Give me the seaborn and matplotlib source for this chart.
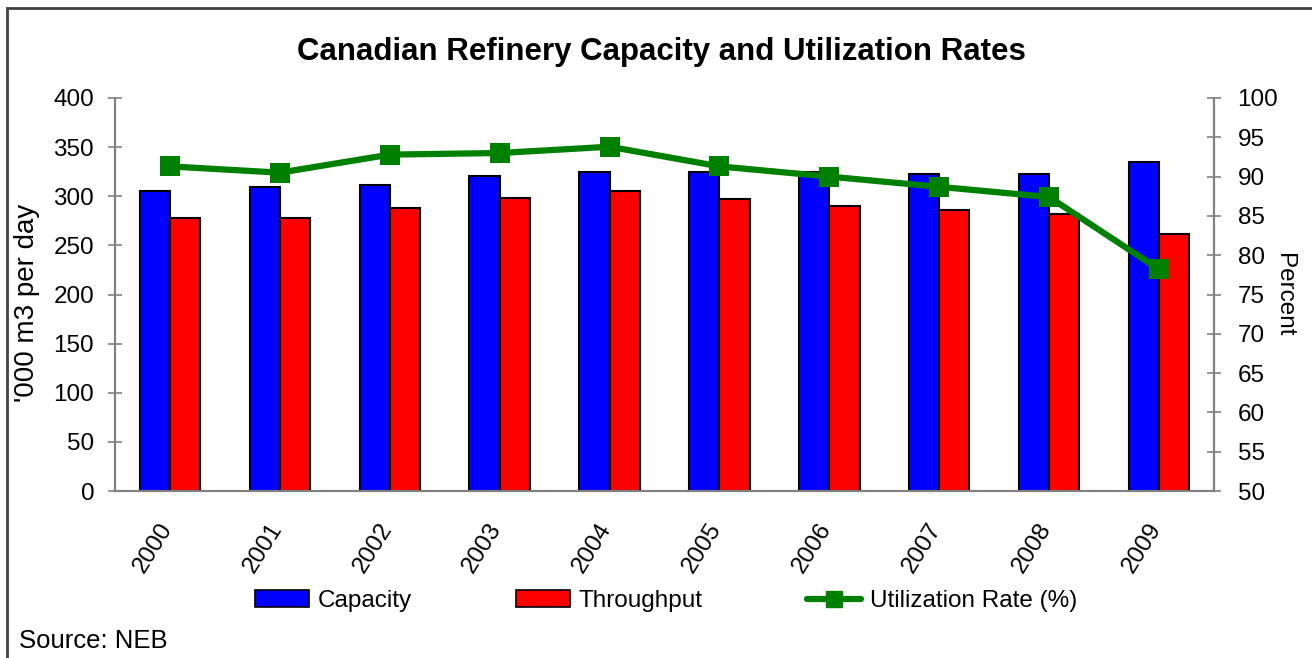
import numpy as np
import pandas as pd
import seaborn as sns
import matplotlib.pyplot as plt
from matplotlib.patches import Patch, Rectangle
from matplotlib.lines import Line2D

years = ["2000", "2001", "2002", "2003", "2004", "2005", "2006", "2007", "2008", "2009"]
capacity = [305, 309, 311, 321, 325, 325, 325, 323, 323, 335]
throughput = [278, 278, 288, 298, 305, 297, 290, 286, 282, 262]
utilization = [91.3, 90.5, 92.8, 93.0, 93.8, 91.3, 90.0, 88.7, 87.4, 78.2]

sns.set_theme(style="white")
plt.rcParams['font.family'] = ['Liberation Sans', 'DejaVu Sans']
plt.rcParams['text.color'] = 'black'
plt.rcParams['axes.labelcolor'] = 'black'
plt.rcParams['xtick.color'] = 'black'
plt.rcParams['ytick.color'] = 'black'

fs = 17.5

df = pd.DataFrame({"Year": years * 2,
                   "Value": capacity + throughput,
                   "Series": ["Capacity"] * 10 + ["Throughput"] * 10})

fig = plt.figure(figsize=(13.12, 6.58), dpi=100)
ax = fig.add_axes([115 / 1312, 1 - 491 / 658, (1214 - 115) / 1312, (491 - 98) / 658])

sns.barplot(data=df, x="Year", y="Value", hue="Series",
            palette=["#0000FF", "#FF0000"], width=0.55, gap=0,
            edgecolor="black", linewidth=1.5, saturation=1, ax=ax, legend=False)

ax.set_xlim(-0.5, 9.5)
ax.set_ylim(0, 400)
ax.set_yticks(range(0, 401, 50))
ax.set_xlabel("")
ax.set_ylabel("'000 m3 per day", fontsize=20)
ax.yaxis.set_label_coords(-0.068, 0.478)
ax.set_xticks(np.arange(-0.5, 10, 1), minor=False)
ax.set_xticklabels([])
# year labels sit a little left of the group centre, like the original
ax.set_xticks(np.arange(10) - 0.11, minor=True)
ax.set_xticklabels(years, minor=True, rotation=58, fontsize=fs)
ax.tick_params(axis="x", which="major", direction="out", length=8, color="#808080", width=1)
ax.tick_params(axis="x", which="minor", length=0, pad=20)
ax.tick_params(axis="y", direction="inout", length=10, color="#808080", width=1.2, labelsize=fs, pad=10)
for lab in ax.get_xticklabels(minor=True):
    lab.set_horizontalalignment("right")
    lab.set_rotation_mode("anchor")

ax2 = ax.twinx()
sns.lineplot(x=np.arange(10), y=utilization, color="#008000", linewidth=4.5,
             marker="s", markersize=15, markeredgewidth=0, ax=ax2)
ax2.set_ylim(50, 100)
ax2.set_yticks(range(50, 101, 5))
ax2.set_ylabel("Percent", fontsize=fs, rotation=270, labelpad=12)
ax2.tick_params(axis="y", direction="inout", length=10, color="#808080", width=1.2, labelsize=fs, pad=12)
ax2.set_xlim(-0.5, 9.5)

for a in (ax, ax2):
    a.spines["top"].set_visible(False)
    for s in ("left", "right", "bottom"):
        a.spines[s].set_color("#808080")
        a.spines[s].set_linewidth(1.5)

fig.text(661 / 1312, 1 - 52 / 658, "Canadian Refinery Capacity and Utilization Rates",
         ha="center", va="center", fontsize=22.5, fontweight="bold")
fig.text(19 / 1312, 1 - 641 / 658, "Source: NEB", ha="left", va="center", fontsize=18.5)

handles = [Patch(facecolor="#0000FF", edgecolor="black", linewidth=1.2),
           Patch(facecolor="#FF0000", edgecolor="black", linewidth=1.2),
           Line2D([], [], color="#008000", linewidth=4.5, marker="s", markersize=11,
                  solid_capstyle="round")]
fig.legend(handles, ["Capacity", "Throughput", "Utilization Rate (%)"],
           loc="center", bbox_to_anchor=(666 / 1312, 1 - 601 / 658), ncol=3, frameon=False,
           fontsize=fs, handlelength=2.2, handleheight=0.66, handletextpad=0.37,
           columnspacing=4.3, borderpad=0, borderaxespad=0)

fig.patches.append(Rectangle((7 / 1312, -0.05), 1.1, 1 - 8 / 658 + 0.05, transform=fig.transFigure,
                             fill=False, edgecolor="#404040", linewidth=2))

fig.savefig("out.png", dpi=100)
